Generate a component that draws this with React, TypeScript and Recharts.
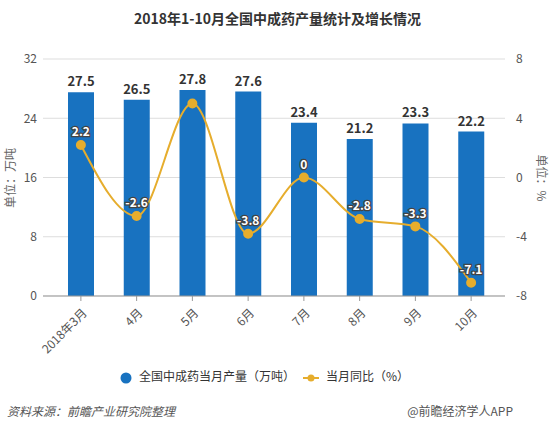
import React from 'react';
import {
  Bar,
  CartesianGrid,
  ComposedChart,
  LabelList,
  Line,
  XAxis,
  YAxis,
} from 'recharts';

const months = ['2018年3月', '4月', '5月', '6月', '7月', '8月', '9月', '10月'];
const output = [27.5, 26.5, 27.8, 27.6, 23.4, 21.2, 23.3, 22.2];
const growth = [2.2, -2.6, 5.0, -3.8, 0, -2.8, -3.3, -7.1];
// the 5月 growth point carries no label in the source
const growthLabels = ['2.2', '-2.6', '', '-3.8', '0', '-2.8', '-3.3', '-7.1'];
const leftTicks = [0, 8, 16, 24, 32];
const rightTicks = [-8, -4, 0, 4, 8];

const BLUE = '#1872c0';
const GOLD = '#e6ad2d';
const FONT = '"Microsoft YaHei", "Noto Sans CJK SC", sans-serif';

const data = months.map((m, i) => ({
  month: m,
  output: output[i],
  growth: growth[i],
  growthLabel: growthLabels[i],
}));

function MonthTick({ x, y, payload }: any) {
  return (
    <g transform={`translate(${x + 4},${y + 8})`}>
      <text
        transform="rotate(-45)"
        textAnchor="end"
        dy={4}
        fontSize={12}
        fill="#555"
        fontFamily={FONT}
      >
        {payload.value}
      </text>
    </g>
  );
}

function GrowthLabel({ x, y, value }: any) {
  if (!value) return null;
  return (
    <text
      x={x}
      y={y - 12}
      textAnchor="middle"
      dominantBaseline="middle"
      fontSize={12}
      fontWeight="bold"
      fill="#fff"
      stroke="#444"
      strokeWidth={2.5}
      paintOrder="stroke"
      fontFamily={FONT}
    >
      {value}
    </text>
  );
}

function ChartLegend() {
  return (
    <svg
      width={555}
      height={20}
      style={{ position: 'absolute', left: 0, top: 368 }}
    >
      <circle cx={126} cy={10} r={5.5} fill={BLUE} />
      <text x={139} y={10} dominantBaseline="middle" fontSize={12} fill="#333" fontFamily={FONT}>
        全国中成药当月产量（万吨）
      </text>
      <line x1={303} y1={10} x2={319} y2={10} stroke={GOLD} strokeWidth={2} />
      <circle cx={311} cy={10} r={3.5} fill={GOLD} />
      <text x={326} y={10} dominantBaseline="middle" fontSize={12} fill="#333" fontFamily={FONT}>
        当月同比（%）
      </text>
    </svg>
  );
}

export default function App() {
  return (
    <div
      style={{
        position: 'absolute',
        left: 0,
        top: 0,
        width: 555,
        height: 427,
        background: '#fff',
        fontFamily: FONT,
      }}
    >
      <div
        style={{
          position: 'absolute',
          top: 8,
          width: 555,
          textAlign: 'center',
          fontSize: 14,
          fontWeight: 'bold',
          color: '#333',
        }}
      >
        2018年1-10月全国中成药产量统计及增长情况
      </div>
      <ComposedChart
        width={555}
        height={427}
        data={data}
        margin={{ top: 59, right: 0, left: 0, bottom: 81 }}
      >
        <CartesianGrid vertical={false} stroke="#ddd" yAxisId="left" />
        <XAxis
          dataKey="month"
          padding={{ left: 10, right: 6 }}
          height={50}
          interval={0}
          tick={<MonthTick />}
          tickSize={5}
          axisLine={{ stroke: '#999' }}
          tickLine={{ stroke: '#999' }}
        />
        <YAxis
          yAxisId="left"
          width={43}
          domain={[0, 32]}
          ticks={leftTicks}
          axisLine={false}
          tickLine={false}
          tickSize={4}
          tick={{ fontSize: 12, fill: '#555' }}
          label={{
            content: () => (
              <text
                transform="translate(12,178) rotate(-90)"
                textAnchor="middle"
                dominantBaseline="middle"
                fontSize={12}
                fill="#666"
                fontFamily={FONT}
              >
                单位：万吨
              </text>
            ),
          }}
        />
        <YAxis
          yAxisId="right"
          orientation="right"
          width={50}
          domain={[-8, 8]}
          ticks={rightTicks}
          axisLine={false}
          tickLine={false}
          tickSize={9}
          tick={{ fontSize: 12, fill: '#555' }}
          label={{
            content: () => (
              <text
                transform="translate(540,178) rotate(90)"
                textAnchor="middle"
                dominantBaseline="middle"
                fontSize={12}
                fill="#666"
                fontFamily={FONT}
              >
                单位：%
              </text>
            ),
          }}
        />
        <Bar yAxisId="left" dataKey="output" fill={BLUE} barSize={26} isAnimationActive={false}>
          <LabelList
            dataKey="output"
            position="top"
            offset={6}
            fontSize={13}
            fontWeight="bold"
            fill="#333"
            fontFamily={FONT}
          />
        </Bar>
        <Line
          yAxisId="right"
          type="monotone"
          dataKey="growth"
          stroke={GOLD}
          strokeWidth={2}
          dot={{ r: 4, fill: GOLD, stroke: GOLD }}
          isAnimationActive={false}
        >
          <LabelList dataKey="growthLabel" content={<GrowthLabel />} />
        </Line>
      </ComposedChart>
      <ChartLegend />
      <div
        style={{
          position: 'absolute',
          left: 7,
          top: 402,
          fontSize: 12,
          fontStyle: 'italic',
          color: '#555',
        }}
      >
        资料来源：前瞻产业研究院整理
      </div>
      <div
        style={{
          position: 'absolute',
          right: 42,
          top: 402,
          fontSize: 12,
          color: '#555',
        }}
      >
        @前瞻经济学人APP
      </div>
    </div>
  );
}
